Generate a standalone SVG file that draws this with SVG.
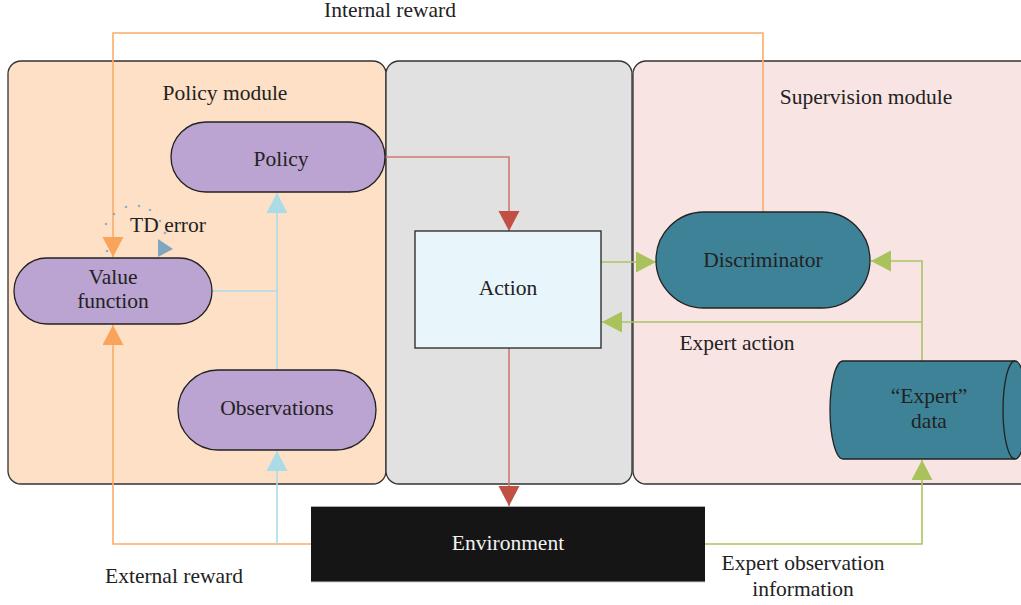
<svg xmlns="http://www.w3.org/2000/svg" width="1021" height="605" viewBox="0 0 1021 605">
  <defs>
    <style>
      text { font-family: "Liberation Serif", "DejaVu Serif", serif; font-size: 21.5px; fill: #222; text-anchor: middle; }
      .panel { stroke: #333; stroke-width: 1.3; }
      .pill { fill: #bba3d2; stroke: #222; stroke-width: 1.3; }
      .teal { fill: #3d8296; stroke: #222; stroke-width: 1.3; }
      .c { fill: none; stroke-width: 1.6; }
      .orange { stroke: #f9ad6a; }
      .red { stroke: #d07a6f; }
      .blue { stroke: #acdbe8; }
      .green { stroke: #abc463; }
    </style>
    <marker id="hOrange" markerUnits="userSpaceOnUse" markerWidth="22" markerHeight="22" refX="20" refY="10.5" orient="auto" viewBox="0 0 22 22">
      <path d="M0,0 L20,10.5 L0,21 z" fill="#f8a45a"/>
    </marker>
    <marker id="hRed" markerUnits="userSpaceOnUse" markerWidth="22" markerHeight="22" refX="20" refY="10.5" orient="auto" viewBox="0 0 22 22">
      <path d="M0,0 L20,10.5 L0,21 z" fill="#c24f43"/>
    </marker>
    <marker id="hBlue" markerUnits="userSpaceOnUse" markerWidth="22" markerHeight="22" refX="20" refY="10.5" orient="auto" viewBox="0 0 22 22">
      <path d="M0,0 L20,10.5 L0,21 z" fill="#acdbe8"/>
    </marker>
    <marker id="hGreen" markerUnits="userSpaceOnUse" markerWidth="22" markerHeight="22" refX="20" refY="10.5" orient="auto" viewBox="0 0 22 22">
      <path d="M0,0 L20,10.5 L0,21 z" fill="#a9c25c"/>
    </marker>
  </defs>

  <rect width="1021" height="605" fill="#ffffff"/>

  <!-- module panels -->
  <g id="policy-module">
    <rect class="panel" x="8" y="61" width="378" height="423" rx="13" fill="#fde0c5"/>
    <text x="225" y="100">Policy module</text>
  </g>
  <g id="action-module">
    <rect class="panel" x="386" y="61" width="246" height="423" rx="13" fill="#e1e1e1"/>
  </g>
  <g id="supervision-module">
    <rect class="panel" x="633" y="61" width="410" height="423" rx="13" fill="#f8e4e3"/>
    <text x="866" y="104">Supervision module</text>
  </g>

  <!-- connectors -->
  <g id="connectors">
    <!-- internal reward -->
    <path class="c orange" d="M763,212 V33 H113 V257" marker-end="url(#hOrange)"/>
    <!-- external reward -->
    <path class="c orange" d="M311,544 H113 V325" marker-end="url(#hOrange)"/>
    <!-- observations -->
    <path class="c blue" d="M277,544 V451" marker-end="url(#hBlue)"/>
    <path class="c blue" d="M277,370 V193" marker-end="url(#hBlue)"/>
    <path class="c blue" d="M212,291 H277"/>
    <!-- policy to action to environment -->
    <path class="c red" d="M385,157 H509 V231" marker-end="url(#hRed)"/>
    <path class="c red" d="M509,348 V506" marker-end="url(#hRed)"/>
    <!-- action to discriminator -->
    <path class="c green" d="M601,262 H656" marker-end="url(#hGreen)"/>
    <!-- expert data to discriminator and action -->
    <path class="c green" d="M922,361 V261 H871" marker-end="url(#hGreen)"/>
    <path class="c green" d="M922,322 H602" marker-end="url(#hGreen)"/>
    <!-- environment to expert data -->
    <path class="c green" d="M705,544 H922 V460" marker-end="url(#hGreen)"/>
    <!-- TD error loop -->
    <g fill="#8fb0c8">
      <circle cx="107" cy="251" r="1.3"/>
      <circle cx="106" cy="224" r="1.3"/>
      <circle cx="114" cy="214" r="1.3"/>
      <circle cx="126" cy="207" r="1.3"/>
      <circle cx="139" cy="206" r="1.3"/>
      <circle cx="150" cy="210" r="1.3"/>
      <circle cx="160" cy="221" r="1.3"/>
      <circle cx="165" cy="233" r="1.3"/>
    </g>
    <path d="M158,239 L173,249 L158,257 z" fill="#7fa5bf"/>
  </g>

  <g id="td-error-label">
    <text x="168" y="232">TD error</text>
  </g>

  <g id="internal-reward-label">
    <text x="390" y="17">Internal reward</text>
  </g>
  <g id="external-reward-label">
    <text x="174" y="583">External reward</text>
  </g>
  <g id="expert-action-label">
    <text x="737" y="350">Expert action</text>
  </g>
  <g id="expert-observation-label">
    <text x="803" y="570">Expert observation</text>
    <text x="803" y="596">information</text>
  </g>

  <!-- nodes -->
  <g id="policy">
    <rect class="pill" x="171" y="122" width="214" height="70" rx="35"/>
    <text x="281" y="166">Policy</text>
  </g>
  <g id="value-function">
    <rect class="pill" x="14" y="258" width="198" height="66" rx="33"/>
    <text x="113" y="284">Value</text>
    <text x="113" y="308">function</text>
  </g>
  <g id="observations">
    <rect class="pill" x="178" y="370" width="198" height="80" rx="40"/>
    <text x="277" y="415">Observations</text>
  </g>
  <g id="action">
    <rect x="415" y="231" width="186" height="117" fill="#e8f5fb" stroke="#222" stroke-width="1.3"/>
    <text x="508" y="295">Action</text>
  </g>
  <g id="discriminator">
    <rect class="teal" x="656" y="212" width="214" height="96" rx="48"/>
    <text x="763" y="267">Discriminator</text>
  </g>
  <g id="expert-data">
    <path class="teal" d="M843,361 H1015 A12,49 0 0 1 1015,459 H843 A13,49 0 0 1 843,361 z"/>
    <path d="M1015,361 A12,49 0 0 0 1015,459" fill="none" stroke="#222" stroke-width="1.3"/>
    <text x="929" y="403">“Expert”</text>
    <text x="929" y="428">data</text>
  </g>
  <g id="environment">
    <rect x="311" y="506" width="394" height="76" fill="#151515"/>
    <line x1="311" y1="506.5" x2="705" y2="506.5" stroke="#aaa" stroke-width="1"/>
    <line x1="311" y1="582" x2="705" y2="582" stroke="#ccc" stroke-width="1"/>
    <text x="508" y="550" style="fill:#f2f2f2">Environment</text>
  </g>
</svg>
